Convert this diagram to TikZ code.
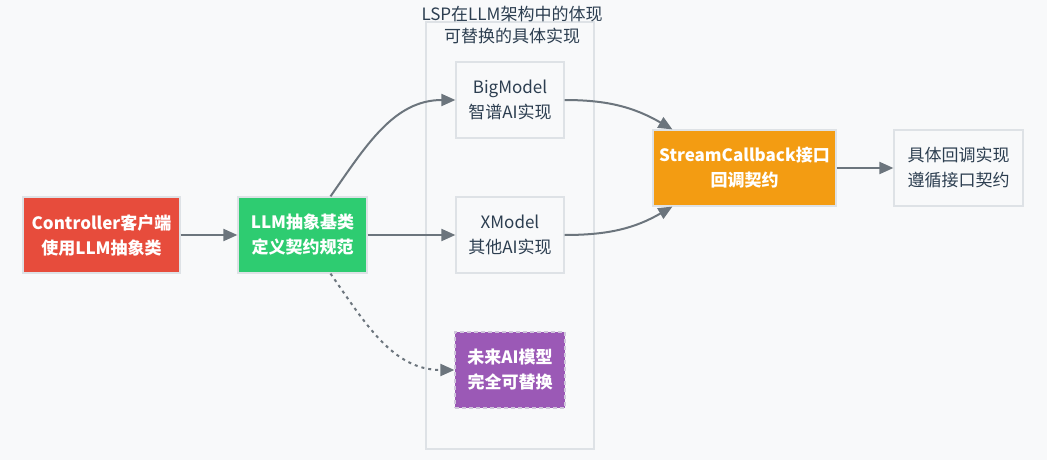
\documentclass[tikz,border=0pt]{standalone}
\usepackage{fontspec}
\setmainfont{Noto Sans CJK SC}
\usetikzlibrary{arrows.meta}
\definecolor{bgcol}{HTML}{F8F9FA}
\definecolor{linecol}{HTML}{6C757D}
\definecolor{textcol}{HTML}{2C3E50}
\definecolor{edgecol}{HTML}{DEE2E6}
\definecolor{redcol}{HTML}{E74C3C}
\definecolor{greencol}{HTML}{2ECC71}
\definecolor{purplecol}{HTML}{9B59B6}
\definecolor{orangecol}{HTML}{F39C12}
\tikzset{
  box/.style={rectangle, draw=edgecol, line width=1.2pt, minimum height=76pt, align=center,
    inner sep=0pt, font=\fontsize{17}{25}\selectfont, text=textcol, fill=bgcol},
  solidbox/.style={box, text=white, font=\fontsize{17}{25}\selectfont\bfseries},
  link/.style={draw=linecol, line width=2pt, -{Triangle[length=14pt,width=12pt]}},
}
\begin{document}
\begin{tikzpicture}[x=1pt, y=-1pt]
  \useasboundingbox[fill=bgcol] (0,0) rectangle (1047,460);
  % Cluster of replaceable implementations
  \node[draw=edgecol, line width=1.2pt, minimum width=168pt, minimum height=427pt, inner sep=0pt] (lsp) at (510,235.5) {};
  \node[align=center, text=textcol, font=\fontsize{17}{22}\selectfont] (lsptitle) at (512,25) {LSP在LLM架构中的体现\\可替换的具体实现};

  % Client and abstraction
  \node[solidbox, fill=redcol, minimum width=157pt] (ctrl) at (101.5,235) {Controller客户端\\使用LLM抽象类};
  \node[solidbox, fill=greencol, minimum width=129pt] (llm) at (302.5,235) {LLM抽象基类\\定义契约规范};

  % Implementations
  \node[box, minimum width=108pt] (big) at (510,100) {BigModel\\智谱AI实现};
  \node[box, minimum width=108pt] (xm) at (510,235) {XModel\\其他AI实现};
  \node[solidbox, fill=purplecol, draw=edgecol!80!purplecol, dashed, dash pattern=on 4pt off 3pt, minimum width=110pt] (future) at (510,370) {未来AI模型\\完全可替换};

  % Callback side
  \node[solidbox, fill=orangecol, minimum width=183pt] (stream) at (744.5,168) {StreamCallback接口\\回调契约};
  \node[box, minimum width=129pt] (impl) at (958.5,168) {具体回调实现\\遵循接口契约};

  % Connectors
  \draw[link] (ctrl) -- (llm);
  \draw[link] (llm) -- (xm);
  \draw[link] ([xshift=28pt]llm.north) to[out=55, in=180] (big.west);
  \draw[link, dash pattern=on 3pt off 4pt] ([xshift=28pt]llm.south) to[out=-55, in=180] (future.west);
  \draw[link] (big.east) to[out=0, in=150] ([xshift=20pt]stream.north west);
  \draw[link] (xm.east) to[out=0, in=210] ([xshift=20pt]stream.south west);
  \draw[link] (stream) -- (impl);
\end{tikzpicture}
\end{document}
